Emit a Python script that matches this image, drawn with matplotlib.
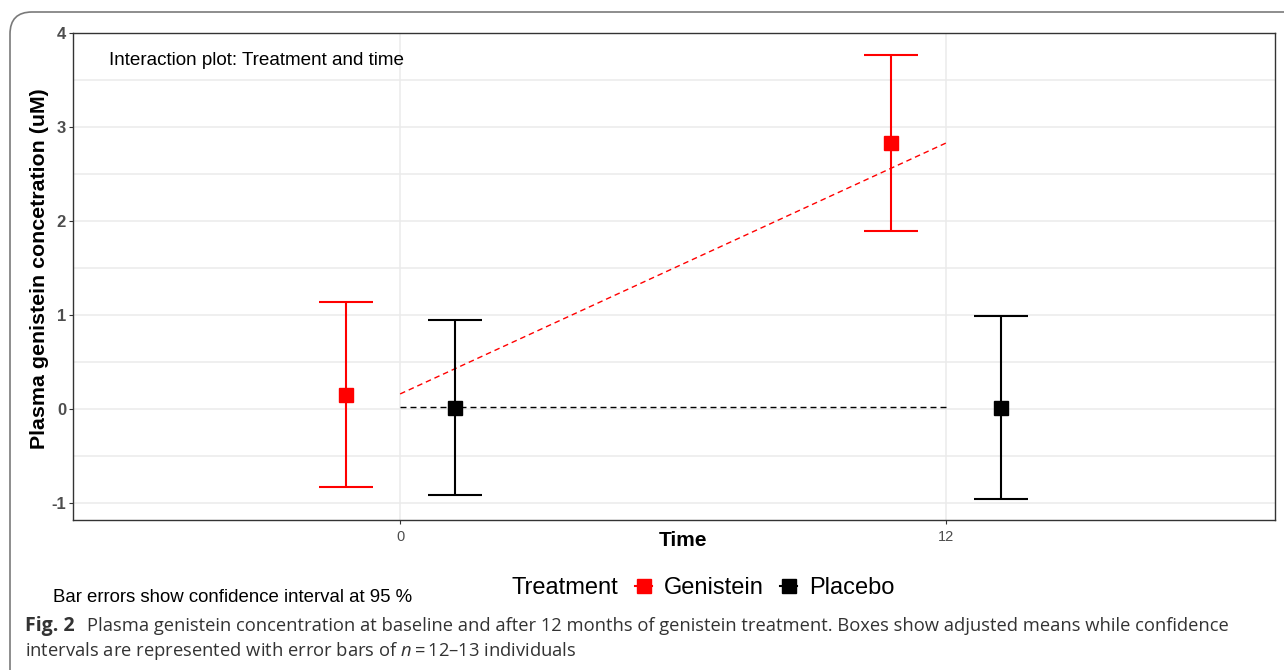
import matplotlib
matplotlib.use("Agg")
import matplotlib.pyplot as plt
from matplotlib.lines import Line2D
from matplotlib.patches import FancyBboxPatch
from matplotlib.ticker import MultipleLocator

# ------------------------------------------------------------------
# Dados
# ------------------------------------------------------------------
times = [0, 12]
treatments = ["Genistein", "Placebo"]
colors = {"Genistein": "#FF0000", "Placebo": "#000000"}

# medias ajustadas e IC 95%
gen_mean = [0.15, 2.83]
gen_low = [-0.83, 1.89]
gen_high = [1.14, 3.77]

plc_mean = [0.01, 0.01]
plc_low = [-0.91, -0.96]
plc_high = [0.95, 0.99]

# linhas de interacao (tracejadas)
gen_line = [0.16, 2.83]
plc_line = [0.02, 0.02]

x_ticks = [0, 12]
y_ticks = [-1, 0, 1, 2, 3, 4]

# ------------------------------------------------------------------
# Figura
# ------------------------------------------------------------------
plt.rcParams["font.family"] = ["Liberation Sans", "DejaVu Sans"]
W, H = 1284, 670
fig = plt.figure(figsize=(W / 100, H / 100), dpi=100)
fig.patch.set_facecolor("white")

# moldura arredondada da pagina (em pixels)
moldura = FancyBboxPatch((10, -60), 1400, 718, boxstyle="round,pad=0,rounding_size=22",
                         transform=None, fill=False, edgecolor="#7a7a7a", linewidth=1.2)
fig.add_artist(moldura)

ax = fig.add_axes([73 / W, 1 - 520 / H, (1275 - 73) / W, (520 - 33) / H])
ax.set_xlim(-7.19, 19.23)
ax.set_ylim(-1.181, 4.0)

# grade e ticks
ax.set_xticks(x_ticks)
ax.set_xticklabels([str(v) for v in x_ticks], fontsize=10.5)
ax.set_yticks(y_ticks)
ax.set_yticklabels([str(v) for v in y_ticks], fontsize=12, fontweight="bold")
ax.yaxis.set_minor_locator(MultipleLocator(0.5))
ax.grid(True, which="major", color="#ebebeb", linewidth=1.1, zorder=0)
ax.grid(True, which="minor", axis="y", color="#ebebeb", linewidth=1.1, zorder=0)
ax.tick_params(which="minor", length=0)
ax.tick_params(which="major", length=3, width=0.8, color="#333333", labelcolor="#4d4d4d")
ax.tick_params(axis="y", pad=2)
ax.tick_params(axis="x", pad=4)
for sp in ax.spines.values():
    sp.set_color("#333333")
    sp.set_linewidth(1.0)

# linhas tracejadas de interacao
ax.plot(times, gen_line, color=colors["Genistein"], lw=1.0, dashes=(4.0, 2.8), zorder=2)
ax.plot(times, plc_line, color=colors["Placebo"], lw=1.0, dashes=(4.3, 2.9), zorder=2)

# barras de erro com deslocamento (dodge)
dodge = {"Genistein": -1.2, "Placebo": 1.2}
series = {
    "Genistein": (gen_mean, gen_low, gen_high),
    "Placebo": (plc_mean, plc_low, plc_high),
}
for trt in treatments:
    mean, low, high = series[trt]
    xs = [t + dodge[trt] for t in times]
    err = [[m - lo for m, lo in zip(mean, low)], [hi - m for m, hi in zip(mean, high)]]
    ax.errorbar(xs, mean, yerr=err, fmt="s", color=colors[trt], ecolor=colors[trt],
                markersize=10, elinewidth=1.5, capsize=19.4, capthick=1.5, zorder=3)

ax.text(0.03, 0.943, "Interaction plot: Treatment and time", transform=ax.transAxes,
        fontsize=13.6, va="center", ha="left", color="black")

ax.set_xlabel("Time", fontsize=15, fontweight="bold", va="center")
ax.xaxis.set_label_coords((683 - 73) / 1202, -(541 - 520) / 487)
ax.set_ylabel("Plasma genistein concetration (uM)", fontsize=15.4, fontweight="bold", va="center")
ax.yaxis.set_label_coords(-(73 - 40) / 1202, (520 - 269) / 487)

# legenda manual
fig.text(511 / W, 1 - 588 / H, "Treatment", fontsize=17, va="center", ha="left")
handles = [Line2D([], [], marker="s", linestyle="-", lw=1.5, color=colors[t], markersize=10)
           for t in treatments]
fig.legend(handles, treatments, ncol=2, loc="center left", bbox_to_anchor=(635 / W, 1 - 588 / H),
           frameon=False, fontsize=17, handlelength=0.72, handletextpad=0.5, columnspacing=0.7,
           borderaxespad=0, borderpad=0)

fig.text(53 / W, 1 - 598 / H, "Bar errors show confidence interval at 95 %", fontsize=13.4,
         va="center", ha="left")

# legenda da figura (caption)
plt.rcParams["mathtext.fontset"] = "custom"
plt.rcParams["mathtext.it"] = "Open Sans:italic"
plt.rcParams["mathtext.rm"] = "Open Sans"
cap_font = ["Open Sans", "DejaVu Sans"]
cap_col = "#333333"
fig.text(25 / W, 1 - 626 / H, "Fig. 2", fontsize=14, fontweight="bold", va="center",
         ha="left", color=cap_col, family=cap_font)
fig.text(87 / W, 1 - 626 / H,
         "Plasma genistein concentration at baseline and after 12 months of genistein treatment. "
         "Boxes show adjusted means while confidence",
         fontsize=13.2, va="center", ha="left", color=cap_col, family=cap_font)
fig.text(25 / W, 1 - 651 / H,
         "intervals are represented with error bars of $n$\u2009=\u200912\u201313 individuals",
         fontsize=13.2, va="center", ha="left", color=cap_col, family=cap_font)

fig.savefig("out.png", dpi=100)
